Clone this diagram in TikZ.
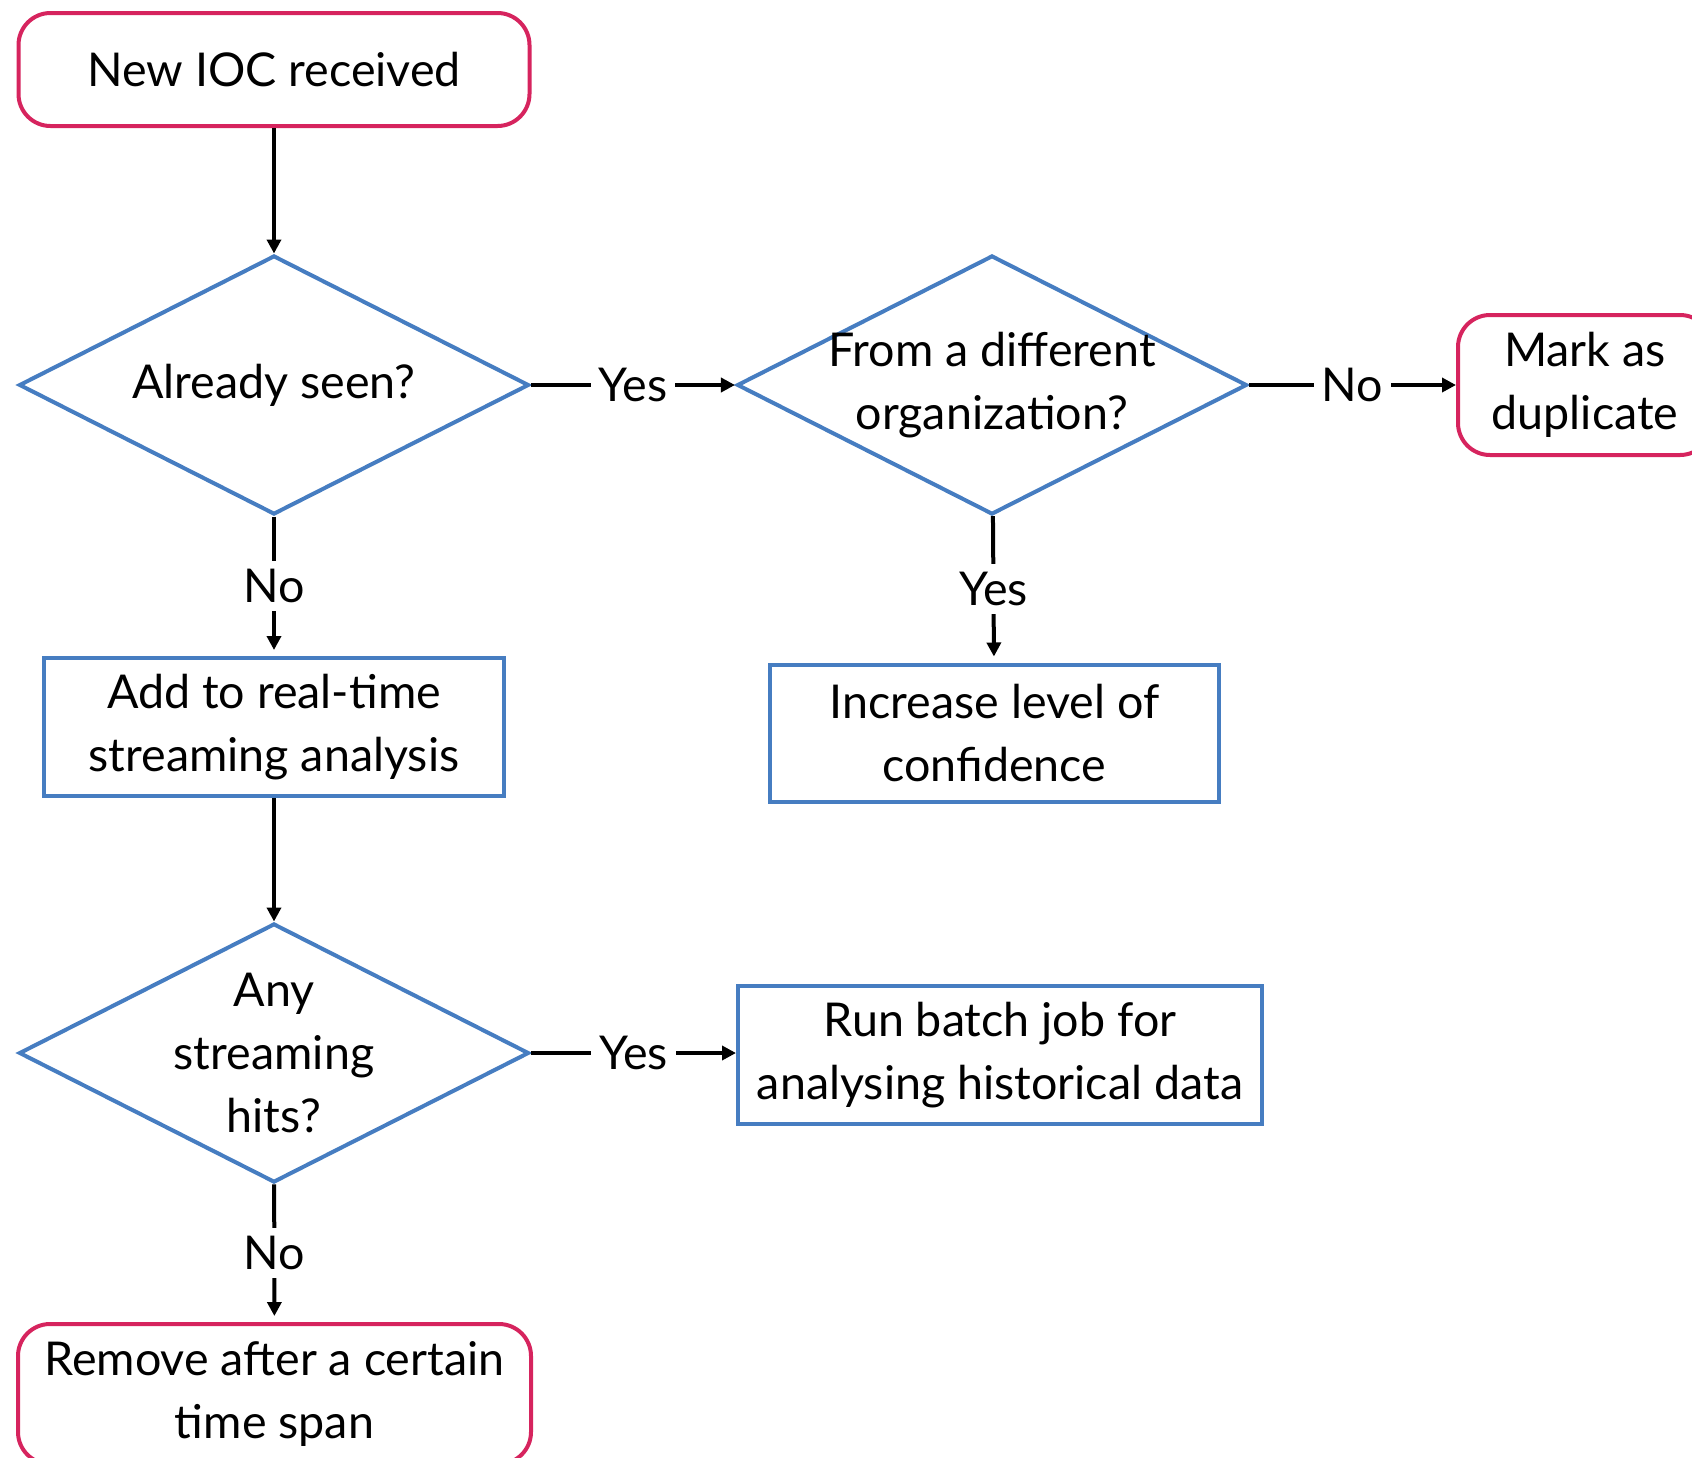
\documentclass[tikz,border=0pt]{standalone}
\usepackage{fontspec}
\setmainfont{Lato}
\usetikzlibrary{arrows.meta,shapes.geometric}
\definecolor{askblue}{RGB}{70,125,193}
\definecolor{askpink}{RGB}{214,36,94}
\tikzset{
  every node/.style={font=\fontsize{23.3}{31.5}\selectfont, align=center},
  endbox/.style={draw=askpink, line width=2pt, rounded corners=16pt},
  actbox/.style={draw=askblue, line width=2pt},
  ask/.style={draw=askblue, line width=2pt, diamond, inner sep=0pt,
    minimum width=255pt, minimum height=129.5pt, label=center:{#1}},
  flow/.style={line width=2pt, -{Triangle[length=7pt,width=7pt]}},
  lbl/.style={fill=white, inner sep=4pt}
}
\begin{document}
\begin{tikzpicture}[x=0.5pt,y=-0.5pt]
  \useasboundingbox (0,0) rectangle (1692,1457);
  % start
  \node[endbox, minimum width=255.5pt, minimum height=56.5pt] (new) at (274,69.5) {New IOC received};
  % first row
  \node[ask={Already seen?}] (seen) at (274,385) {};
  \node[ask={From a different\\organization?}] (org) at (992,385) {};
  \node[endbox, minimum width=127pt, minimum height=70pt] (dup) at (1585,385) {Mark as\\duplicate};
  % second row
  \node[actbox, minimum width=230pt, minimum height=69pt] (add) at (274,727) {Add to real-time\\streaming analysis};
  \node[actbox, minimum width=224.5pt, minimum height=68.5pt] (conf) at (994.5,733) {Increase level of\\confidence};
  % third row
  \node[ask={Any\\streaming\\hits?}] (hits) at (274,1053) {};
  \node[actbox, minimum width=262pt, minimum height=69pt] (batch) at (1000,1055) {Run batch job for\\analysing historical data};
  \node[endbox, minimum width=256.5pt, minimum height=70pt] (remove) at (274.5,1394) {Remove after a certain\\time span};

  \draw[flow] (new) -- (seen);
  \draw[flow] (seen) -- node[lbl] {Yes} (org);
  \draw[flow] (org) -- node[lbl] {No} (dup);
  \draw[flow, shorten >=3pt] (seen) -- node[lbl] {No} (add);
  \draw[flow, shorten >=3pt] (org) -- node[lbl] {Yes} (conf);
  \draw[flow] (add) -- (hits);
  \draw[flow] (hits) -- node[lbl] {Yes} (batch.west |- hits);
  \draw[flow, shorten >=3pt] (hits) -- node[lbl] {No} (remove);
\end{tikzpicture}
\end{document}
